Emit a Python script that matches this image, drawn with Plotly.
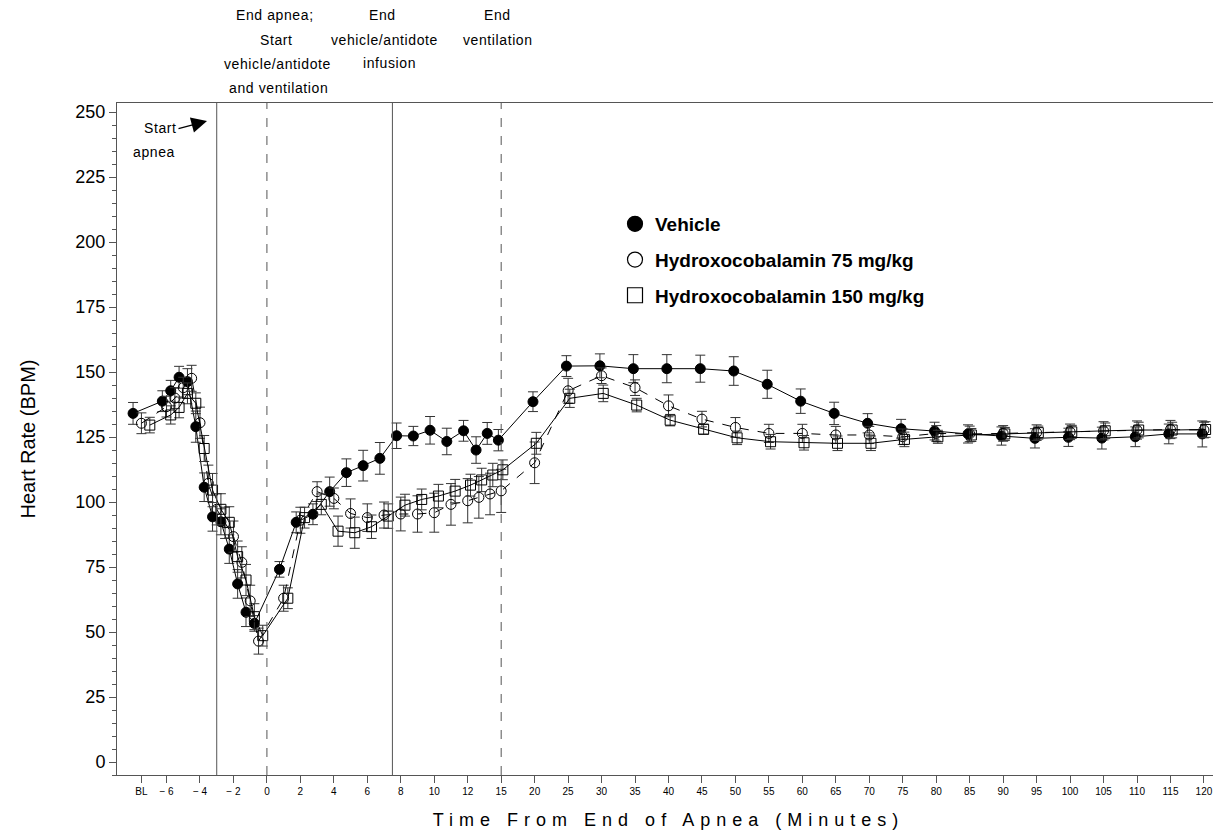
import plotly.graph_objects as go

# ---------------- data ----------------
times = ["BL", -6, -5.5, -5, -4.5, -4, -3.5, -3, -2.5, -2, -1.5, -1, -0.5,
         1, 2, 3, 4, 5, 6, 7, 8, 9, 10, 11, 12, 13, 14, 15,
         20, 25, 30, 35, 40, 45, 50, 55, 60, 65, 70, 75, 80, 85, 90, 95,
         100, 105, 110, 115, 120]

vehicle = [134.1, 138.8, 142.8, 148.0, 146.3, 129.0, 105.7, 94.3, 92.4, 81.9, 68.5, 57.6, 53.3,
           74.1, 92.2, 95.3, 104.0, 111.3, 114.0, 116.8, 125.5, 125.4, 127.6, 123.3, 127.4, 120.0, 126.4, 123.8,
           138.6, 152.3, 152.4, 151.3, 151.3, 151.3, 150.4, 145.3, 138.8, 134.1, 130.3, 128.2, 127.3, 126.2,
           125.4, 124.5, 124.9, 124.6, 125.1, 126.2, 126.2]
vehicle_se = [4.2, 4.0, 4.0, 4.2, 5.0, 6.0, 5.5, 5.5, 5.0, 5.5, 5.5, 5.5, 3.0,
              3.0, 4.0, 4.0, 5.6, 5.3, 5.9, 6.1, 4.9, 3.7, 5.3, 5.1, 4.0, 5.1, 4.2, 4.1,
              3.8, 4.0, 4.6, 5.4, 5.4, 5.2, 5.5, 5.4, 4.7, 4.3, 3.7, 3.6, 3.4, 3.5,
              3.5, 3.7, 3.5, 4.2, 3.8, 3.8, 5.0]

hydroxo75 = [130.3, 136.7, 140.0, 144.0, 147.6, 130.5, 107.2, 97.2, 92.0, 86.7, 76.8, 62.0, 46.5,
             63.0, 93.0, 104.0, 101.4, 95.6, 94.0, 95.0, 95.4, 95.4, 95.9, 99.1, 100.5, 101.8, 103.1, 104.3,
             115.1, 142.8, 148.6, 144.0, 137.0, 131.9, 128.7, 126.4, 126.4, 125.8, 125.8, 125.1, 126.4, 126.2,
             126.4, 126.7, 127.0, 127.4, 127.7, 127.9, 127.7]
hydroxo75_se = [4, 4, 4, 4, 5, 6, 7, 6, 6, 6, 6, 6, 5,
                5, 5, 3.8, 4, 5.6, 5.3, 5, 6.5, 7, 7.5, 8, 8.5, 8, 8, 8.3,
                8, 4.8, 3, 3, 4.2, 3, 3.8, 3.5, 3.5, 3.3, 3.3, 3, 3, 3,
                3, 3, 3, 3.5, 3.5, 3.5, 3]

hydroxo150 = [129.6, 133.5, 136.4, 141.8, 138.0, 120.6, 104.6, 97.2, 92.2, 79.0, 70.0, 55.9, 48.6,
              63.0, 94.0, 99.1, 88.8, 88.2, 90.5, 94.6, 98.8, 101.0, 102.3, 104.2, 106.5, 108.5, 110.4, 112.4,
              122.6, 139.9, 141.8, 137.3, 131.5, 128.0, 124.7, 123.2, 122.8, 122.6, 122.6, 124.1, 125.1, 125.8,
              126.2, 126.7, 127.0, 127.4, 127.7, 127.7, 127.9]
hydroxo150_se = [3, 3.5, 4, 4, 4, 5, 6.4, 6, 6, 6, 6, 5, 4,
                 4, 4, 4, 5.8, 6, 4.5, 4.7, 4.2, 4, 4.5, 4.5, 4.2, 4.5, 4.5, 3.8,
                 4.2, 3.5, 3.2, 2.6, 2.2, 1.9, 2.6, 2.8, 2.8, 2.8, 2.8, 2.8, 2.5, 2.5,
                 2.5, 2.5, 2.5, 3, 3, 3, 3]

tick_times = ["BL", -6, -4, -2, 0, 2, 4, 6, 8, 10, 12, 15, 20, 25, 30, 35, 40, 45, 50,
              55, 60, 65, 70, 75, 80, 85, 90, 95, 100, 105, 110, 115, 120]
tick_labels = ["BL", "\u2212 6", "\u2212 4", "\u2212 2"] + [str(t) for t in tick_times[4:]]

event_lines = [(-3, "solid"), (0, "dash"), (7.5, "solid"), (15, "dash")]

# ---------------- axis mapping (broken time scale) ----------------
def pos(t, jitter=0.0):
    if t == "BL":
        t = -7.5 + 2 * jitter
    else:
        t = t + jitter
    if t <= 12:
        return (t + 8) / 2.0
    if t <= 15:
        return 10 + (t - 12) / 3.0
    return 11 + (t - 15) / 5.0

FONT = "Liberation Sans"

# figure geometry (page has an 8px body margin)
W, H = 1213, 827
ML, MR, MT, MB = 109, 1, 95, 60
PW, PH = W - ML - MR, H - MT - MB

def px(xp):   # page x -> paper
    return (xp - 8 - ML) / PW

def py(yp):   # page y -> paper
    return (H - MB - (yp - 8)) / PH

series = [
    ("Vehicle", vehicle, vehicle_se, -0.25, "circle", "solid"),
    ("Hydroxocobalamin 75 mg/kg", hydroxo75, hydroxo75_se, 0.0, "circle-open", "dash"),
    ("Hydroxocobalamin 150 mg/kg", hydroxo150, hydroxo150_se, 0.25, "square-open", "solid"),
]

fig = go.Figure()
for name, vals, se, jit, sym, dash in series:
    fig.add_trace(go.Scatter(
        x=[pos(t, jit) for t in times], y=vals,
        mode="lines+markers",
        line=dict(color="black", width=1, dash=dash),
        marker=dict(symbol=sym, size=10, color="black", line=dict(color="black", width=1)),
        error_y=dict(type="data", array=se, visible=True, color="#333333", thickness=1, width=5),
        showlegend=False, hoverinfo="skip",
    ))

# legend proxies (markers only)
for i, (name, vals, se, jit, sym, dash) in enumerate(series):
    fig.add_trace(go.Scatter(
        x=[None], y=[None], mode="markers", name=name, legendgroup=str(i),
        marker=dict(symbol=sym, size=15, color="black", line=dict(color="black", width=1.2)),
    ))

for t, d in event_lines:
    fig.add_shape(type="line", xref="x", yref="paper", x0=pos(t), x1=pos(t), y0=0, y1=1,
                  line=dict(color="#555555", width=1, dash=d))

# Top annotations, one line each
top_lines = [
    ("End apnea;", 275, 15), ("Start", 276, 40), ("vehicle/antidote", 277, 64), ("and ventilation", 278, 88),
    ("End", 382, 15), ("vehicle/antidote", 384, 40), ("infusion", 389, 63),
    ("End", 497, 15), ("ventilation", 498, 40),
    ("Start", 160, 128), ("apnea", 154, 152),
]
for txt, xp, yp in top_lines:
    fig.add_annotation(x=px(xp), xref="paper", y=py(yp), yref="paper", xanchor="center", yanchor="middle",
                       text='<span style="letter-spacing:0.6px">' + txt + '</span>', showarrow=False,
                       font=dict(family=FONT, size=14, color="black"))

# arrow for "Start apnea"
fig.add_annotation(x=px(207), xref="paper", y=py(121), yref="paper", text="",
                   showarrow=True, ax=-30, ay=8, arrowhead=2, arrowsize=2.4, arrowwidth=1.3,
                   arrowcolor="black", standoff=0)

fig.update_layout(
    width=W, height=H,
    margin=dict(l=ML, r=MR, t=MT, b=MB),
    paper_bgcolor="white", plot_bgcolor="white",
    font=dict(family=FONT, color="black"),
    legend=dict(x=px(615), y=py(205), xanchor="left", yanchor="top",
                font=dict(family=FONT, size=19, color="black", weight="bold"),
                tracegroupgap=8, traceorder="grouped", bgcolor="rgba(0,0,0,0)",
                itemclick=False),
    xaxis=dict(
        range=[-0.48, 32.48], tickmode="array",
        tickvals=[pos(t) for t in tick_times], ticktext=tick_labels,
        showgrid=False, zeroline=False, showline=True, linecolor="#555555", linewidth=1,
        mirror=True, ticks="outside", ticklen=7, tickcolor="#555555",
        tickfont=dict(family=FONT, size=10, color="black"),
        title=dict(text='<span style="letter-spacing:6px">Time From End of Apnea (Minutes)</span>',
                   font=dict(family=FONT, size=18), standoff=17),
    ),
    yaxis=dict(
        range=[-5, 253.5], tickmode="array", tickvals=[0, 25, 50, 75, 100, 125, 150, 175, 200, 225, 250],
        showgrid=False, zeroline=False, showline=True, linecolor="#555555", linewidth=1,
        mirror=True, ticks="outside", ticklen=7, tickcolor="#555555",
        tickfont=dict(family=FONT, size=18, color="black"),
        minor=dict(ticks="outside", ticklen=4, dtick=5, tickcolor="#555555"),
        title=dict(text="Heart Rate (BPM)", font=dict(family=FONT, size=20), standoff=34),
    ),
)

fig.write_html("out.html")
